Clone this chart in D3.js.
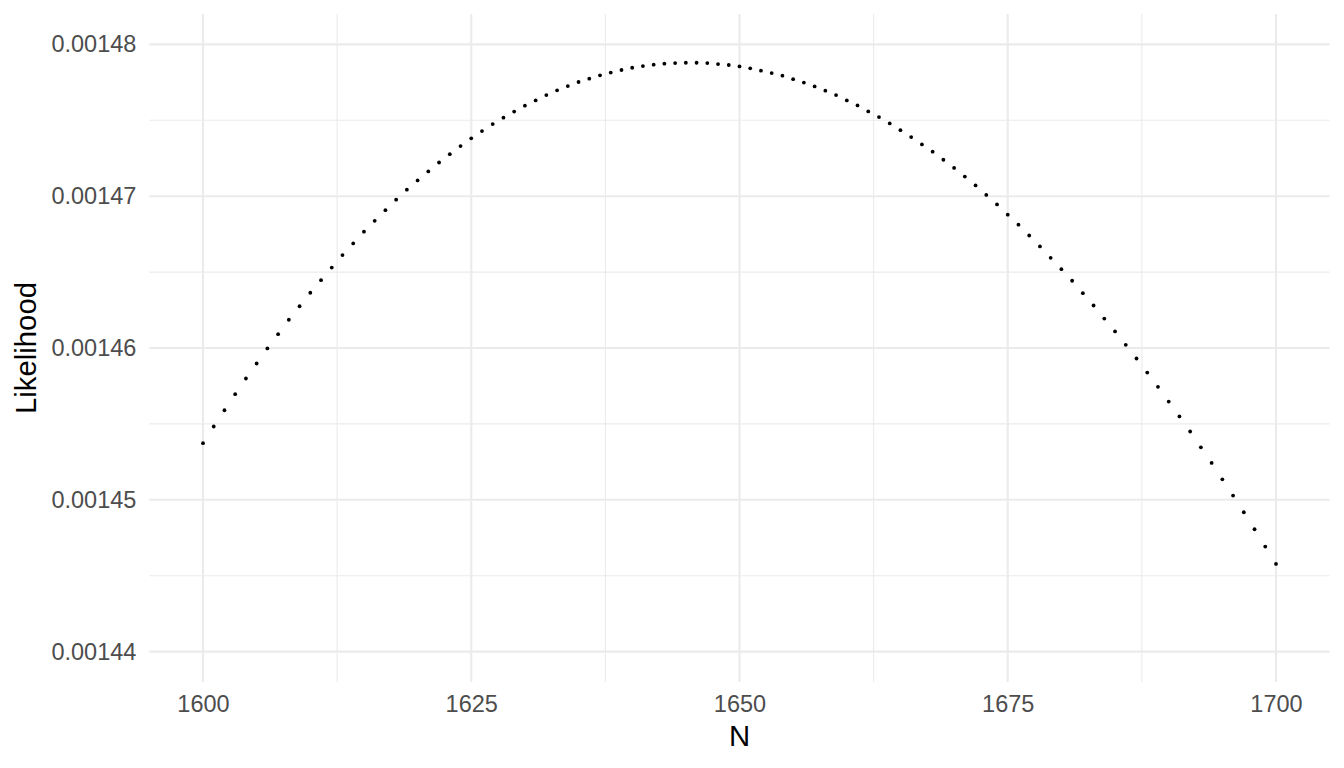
<!DOCTYPE html>
<html>
<head>
<meta charset="utf-8">
<script src="https://cdn.jsdelivr.net/npm/d3@7"></script>
<style>
html,body{margin:0;padding:0;background:#fff;}
svg{display:block;}
text{font-family:"Liberation Sans",Arial,Helvetica,sans-serif;}
</style>
</head>
<body>
<svg id="chart" width="1344" height="768"></svg>
<script>
// Data
const nValues = d3.range(1600, 1701); // N = 1600 ... 1700
const likelihood = [
  0.00145373, 0.00145483, 0.00145590, 0.00145696, 0.00145799, 0.00145898, 0.00145997, 0.00146091, 0.00146186, 0.00146275,
  0.00146364, 0.00146447, 0.00146530, 0.00146612, 0.00146689, 0.00146766, 0.00146838, 0.00146908, 0.00146977, 0.00147043,
  0.00147104, 0.00147163, 0.00147222, 0.00147277, 0.00147330, 0.00147381, 0.00147429, 0.00147475, 0.00147517, 0.00147557,
  0.00147596, 0.00147631, 0.00147666, 0.00147697, 0.00147725, 0.00147752, 0.00147774, 0.00147796, 0.00147814, 0.00147831,
  0.00147846, 0.00147857, 0.00147866, 0.00147873, 0.00147877, 0.00147879, 0.00147879, 0.00147877, 0.00147870, 0.00147864,
  0.00147855, 0.00147842, 0.00147827, 0.00147811, 0.00147794, 0.00147771, 0.00147748, 0.00147723, 0.00147695, 0.00147666,
  0.00147631, 0.00147598, 0.00147558, 0.00147521, 0.00147479, 0.00147435, 0.00147389, 0.00147341, 0.00147293, 0.00147240,
  0.00147186, 0.00147129, 0.00147071, 0.00147008, 0.00146946, 0.00146878, 0.00146812, 0.00146741, 0.00146669, 0.00146594,
  0.00146519, 0.00146443, 0.00146361, 0.00146280, 0.00146194, 0.00146109, 0.00146021, 0.00145931, 0.00145838, 0.00145744,
  0.00145647, 0.00145549, 0.00145450, 0.00145346, 0.00145243, 0.00145135, 0.00145028, 0.00144918, 0.00144806, 0.00144692,
  0.00144578
];
const xTicks = [1600, 1625, 1650, 1675, 1700];
const xMinorTicks = [1612.5, 1637.5, 1662.5, 1687.5];
const yTicks = [0.00144, 0.00145, 0.00146, 0.00147, 0.00148];
const yMinorTicks = [0.001445, 0.001455, 0.001465, 0.001475];
const yTickLabels = ["0.00144", "0.00145", "0.00146", "0.00147", "0.00148"];
const xTitle = "N";
const yTitle = "Likelihood";

const data = nValues.map((n, i) => ({n: n, v: likelihood[i]}));

const panel = {left: 149.35, right: 1329.65, top: 14, bottom: 682};
const svg = d3.select("#chart");

const x = d3.scaleLinear().domain([1595, 1705]).range([panel.left, panel.right]);
const y = d3.scaleLinear().domain([0.001438, 0.001482]).range([panel.bottom, panel.top]);

const grid = svg.append("g");
// minor grid
grid.selectAll("line.xminor").data(xMinorTicks).enter().append("line")
  .attr("x1", d => x(d)).attr("x2", d => x(d))
  .attr("y1", panel.top).attr("y2", panel.bottom)
  .attr("stroke", "#EBEBEB").attr("stroke-width", 1.1);
grid.selectAll("line.yminor").data(yMinorTicks).enter().append("line")
  .attr("y1", d => y(d)).attr("y2", d => y(d))
  .attr("x1", panel.left).attr("x2", panel.right)
  .attr("stroke", "#EBEBEB").attr("stroke-width", 1.1);
// major grid
grid.selectAll("line.xmajor").data(xTicks).enter().append("line")
  .attr("x1", d => x(d)).attr("x2", d => x(d))
  .attr("y1", panel.top).attr("y2", panel.bottom)
  .attr("stroke", "#EBEBEB").attr("stroke-width", 2.1);
grid.selectAll("line.ymajor").data(yTicks).enter().append("line")
  .attr("y1", d => y(d)).attr("y2", d => y(d))
  .attr("x1", panel.left).attr("x2", panel.right)
  .attr("stroke", "#EBEBEB").attr("stroke-width", 2.1);

// axes (labels only, no lines)
const xAxis = svg.append("g")
  .attr("transform", `translate(0,${panel.bottom})`)
  .call(d3.axisBottom(x).tickValues(xTicks).tickSize(0).tickPadding(13).tickFormat(d3.format("d")));
xAxis.select(".domain").remove();
xAxis.selectAll("text").attr("fill", "#4D4D4D").style("font-size", "23.5px")
  .style("font-family", '"Liberation Sans",Arial,Helvetica,sans-serif');

const yAxis = svg.append("g")
  .attr("transform", `translate(${panel.left},0)`)
  .call(d3.axisLeft(y).tickValues(yTicks).tickSize(0).tickPadding(13)
    .tickFormat((d, i) => yTickLabels[i]));
yAxis.select(".domain").remove();
yAxis.selectAll("text").attr("fill", "#4D4D4D").style("font-size", "23.5px")
  .style("font-family", '"Liberation Sans",Arial,Helvetica,sans-serif');

// points
svg.append("g").selectAll("circle").data(data).enter().append("circle")
  .attr("cx", d => x(d.n))
  .attr("cy", d => y(d.v))
  .attr("r", 1.9)
  .attr("fill", "#000");

// titles
svg.append("text")
  .attr("x", (panel.left + panel.right) / 2)
  .attr("y", 746)
  .attr("text-anchor", "middle")
  .attr("fill", "#000")
  .style("font-size", "29.3px")
  .text(xTitle);

svg.append("text")
  .attr("transform", `translate(36,${(panel.top + panel.bottom) / 2}) rotate(-90)`)
  .attr("text-anchor", "middle")
  .attr("fill", "#000")
  .style("font-size", "29.3px")
  .text(yTitle);
</script>
</body>
</html>
